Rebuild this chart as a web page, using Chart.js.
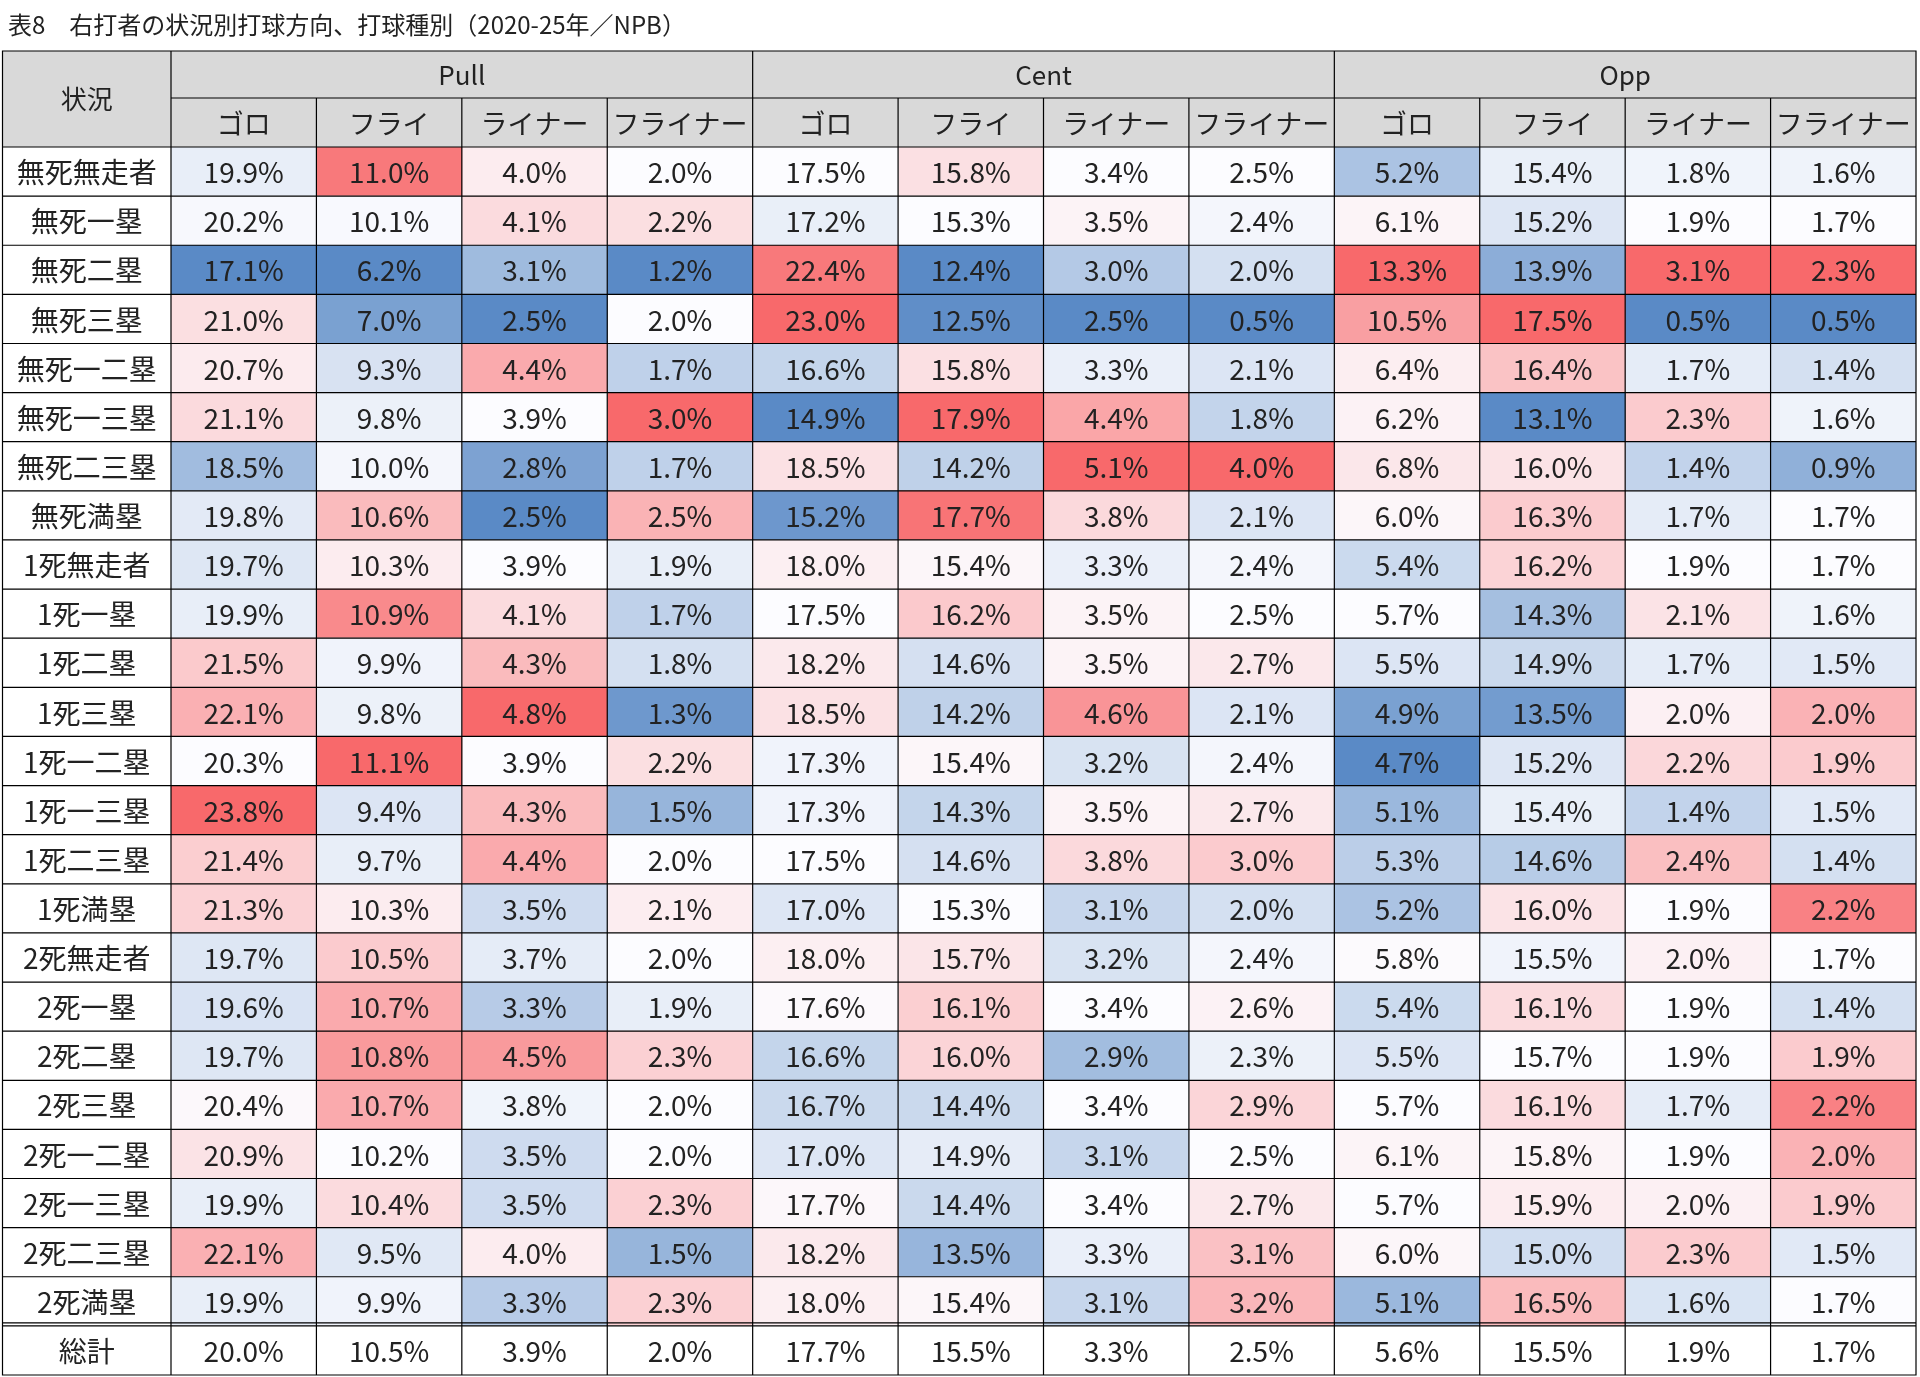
<!DOCTYPE html>
<html><head><meta charset="utf-8">
<script src="https://cdn.jsdelivr.net/npm/chart.js@4/dist/chart.umd.min.js"></script>
<style>html,body{margin:0;padding:0;background:#fff}canvas{display:block}</style>
</head><body>
<canvas id="c" width="1920" height="1377"></canvas>
<script>
const titleText = "表8　右打者の状況別打球方向、打球種別（2020-25年／NPB）";
const cornerLabel = "状況";
const directions = ["Pull", "Cent", "Opp"];
const hitTypes = ["ゴロ", "フライ", "ライナー", "フライナー"];
const rowLabels = ["無死無走者","無死一塁","無死二塁","無死三塁","無死一二塁","無死一三塁","無死二三塁","無死満塁",
 "1死無走者","1死一塁","1死二塁","1死三塁","1死一二塁","1死一三塁","1死二三塁","1死満塁",
 "2死無走者","2死一塁","2死二塁","2死三塁","2死一二塁","2死一三塁","2死二三塁","2死満塁"];
const totalLabel = "総計";
const values = [
 [19.9,11.0,4.0,2.0,17.5,15.8,3.4,2.5,5.2,15.4,1.8,1.6],
 [20.2,10.1,4.1,2.2,17.2,15.3,3.5,2.4,6.1,15.2,1.9,1.7],
 [17.1,6.2,3.1,1.2,22.4,12.4,3.0,2.0,13.3,13.9,3.1,2.3],
 [21.0,7.0,2.5,2.0,23.0,12.5,2.5,0.5,10.5,17.5,0.5,0.5],
 [20.7,9.3,4.4,1.7,16.6,15.8,3.3,2.1,6.4,16.4,1.7,1.4],
 [21.1,9.8,3.9,3.0,14.9,17.9,4.4,1.8,6.2,13.1,2.3,1.6],
 [18.5,10.0,2.8,1.7,18.5,14.2,5.1,4.0,6.8,16.0,1.4,0.9],
 [19.8,10.6,2.5,2.5,15.2,17.7,3.8,2.1,6.0,16.3,1.7,1.7],
 [19.7,10.3,3.9,1.9,18.0,15.4,3.3,2.4,5.4,16.2,1.9,1.7],
 [19.9,10.9,4.1,1.7,17.5,16.2,3.5,2.5,5.7,14.3,2.1,1.6],
 [21.5,9.9,4.3,1.8,18.2,14.6,3.5,2.7,5.5,14.9,1.7,1.5],
 [22.1,9.8,4.8,1.3,18.5,14.2,4.6,2.1,4.9,13.5,2.0,2.0],
 [20.3,11.1,3.9,2.2,17.3,15.4,3.2,2.4,4.7,15.2,2.2,1.9],
 [23.8,9.4,4.3,1.5,17.3,14.3,3.5,2.7,5.1,15.4,1.4,1.5],
 [21.4,9.7,4.4,2.0,17.5,14.6,3.8,3.0,5.3,14.6,2.4,1.4],
 [21.3,10.3,3.5,2.1,17.0,15.3,3.1,2.0,5.2,16.0,1.9,2.2],
 [19.7,10.5,3.7,2.0,18.0,15.7,3.2,2.4,5.8,15.5,2.0,1.7],
 [19.6,10.7,3.3,1.9,17.6,16.1,3.4,2.6,5.4,16.1,1.9,1.4],
 [19.7,10.8,4.5,2.3,16.6,16.0,2.9,2.3,5.5,15.7,1.9,1.9],
 [20.4,10.7,3.8,2.0,16.7,14.4,3.4,2.9,5.7,16.1,1.7,2.2],
 [20.9,10.2,3.5,2.0,17.0,14.9,3.1,2.5,6.1,15.8,1.9,2.0],
 [19.9,10.4,3.5,2.3,17.7,14.4,3.4,2.7,5.7,15.9,2.0,1.9],
 [22.1,9.5,4.0,1.5,18.2,13.5,3.3,3.1,6.0,15.0,2.3,1.5],
 [19.9,9.9,3.3,2.3,18.0,15.4,3.1,3.2,5.1,16.5,1.6,1.7]
];
const totals = [20.0,10.5,3.9,2.0,17.7,15.5,3.3,2.5,5.6,15.5,1.9,1.7];

const FONT = '"Noto Sans CJK JP", "Noto Sans", sans-serif';
const LOW=[0x5A,0x8A,0xC6], MID=[0xFC,0xFC,0xFF], HIGH=[0xF8,0x69,0x6B];
function mix(a,b,t){return 'rgb('+a.map((v,i)=>Math.round(v+(b[i]-v)*t)).join(',')+')';}
function colScale(col){
  const v = values.map(r=>r[col]);
  const s=[...v].sort((a,b)=>a-b);
  const med = s[Math.floor(s.length/2)];
  const mn=s[0], mx=s[s.length-1];
  return x => x>=med ? mix(MID,HIGH,mx===med?0:(x-med)/(mx-med)) : mix(MID,LOW,(med-x)/(med-mn));
}
const nCols = directions.length*hitTypes.length;
const yLabels = [...rowLabels, totalLabel];
const datasets = [];
for(let c=0;c<nCols;c++){
  const sc = colScale(c);
  datasets.push({
    label: directions[Math.floor(c/4)]+' '+hitTypes[c%4],
    data: yLabels.map(()=>1),
    cellText: [...values.map(r=>r[c]), totals[c]],
    backgroundColor: [...values.map(r=>sc(r[c])), '#ffffff'],
    borderWidth: 0,
    categoryPercentage: 1, barPercentage: 1
  });
}
const tablePlugin = {
  id:'table',
  afterDatasetsDraw(chart){
    const ctx=chart.ctx, xs=chart.scales.x, ys=chart.scales.y, ca=chart.chartArea;
    const left=2.5, top=51, hdrMid=98;
    const colX=i=>xs.getPixelForValue(i);
    const n=yLabels.length;
    const rowH=(ys.getPixelForValue(1)-ys.getPixelForValue(0));
    const rowTop=i=>ys.getPixelForValue(i)-rowH/2;
    ctx.save();
    // header backgrounds
    ctx.fillStyle='#d9d9d9';
    ctx.fillRect(left,top,ca.right-left,ca.top-top);
    ctx.fillRect(left,top,ca.left-left,ca.top-top);
    // text
    ctx.fillStyle='#222'; ctx.textAlign='center'; ctx.textBaseline='middle';
    ctx.font='26px '+FONT;
    ctx.fillText(cornerLabel,(left+ca.left)/2,(top+ca.top)/2);
    directions.forEach((d,i)=>ctx.fillText(d,(colX(i*4)+colX(i*4+4))/2,(top+hdrMid)/2+1));
    ctx.font='27px '+FONT;
    for(let c=0;c<nCols;c++) ctx.fillText(hitTypes[c%4],(colX(c)+colX(c+1))/2,(hdrMid+ca.top)/2+1);
    ctx.font='28px '+FONT;
    for(let r=0;r<n;r++){
      const cy=ys.getPixelForValue(r)+1;
      ctx.fillText(yLabels[r],(left+ca.left)/2,cy);
      chart.data.datasets.forEach((ds,c)=>{
        ctx.fillText(ds.cellText[r].toFixed(1)+'%',(colX(c)+colX(c+1))/2,cy);
      });
    }
    // grid lines
    ctx.strokeStyle='#000'; ctx.lineWidth=1.2;
    ctx.beginPath();
    ctx.rect(left,top,ca.right-left,ca.bottom-top);
    ctx.moveTo(ca.left,top); ctx.lineTo(ca.left,ca.bottom);
    for(let c=1;c<nCols;c++){
      const x=colX(c);
      ctx.moveTo(x,c%4===0?top:hdrMid); ctx.lineTo(x,ca.bottom);
    }
    ctx.moveTo(ca.left,hdrMid); ctx.lineTo(ca.right,hdrMid);
    for(let r=0;r<n;r++){const y=rowTop(r); ctx.moveTo(left,y); ctx.lineTo(ca.right,y);}
    const yt=rowTop(n-1)-3; ctx.moveTo(left,yt); ctx.lineTo(ca.right,yt);
    ctx.stroke();
    // title
    ctx.textAlign='left'; ctx.font='24px '+FONT;
    ctx.fillText(titleText,8,25);
    ctx.restore();
  }
};
new Chart(document.getElementById('c'),{
  type:'bar',
  data:{labels:yLabels,datasets},
  options:{
    indexAxis:'y', responsive:false, animation:false, devicePixelRatio:1,
    layout:{padding:{left:171,top:147,right:4,bottom:2}},
    plugins:{legend:{display:false},tooltip:{enabled:false}},
    scales:{
      x:{type:'linear',min:0,max:nCols,stacked:true,display:false},
      y:{type:'category',stacked:true,display:false,offset:true}
    }
  },
  plugins:[tablePlugin]
});
</script>
</body></html>
